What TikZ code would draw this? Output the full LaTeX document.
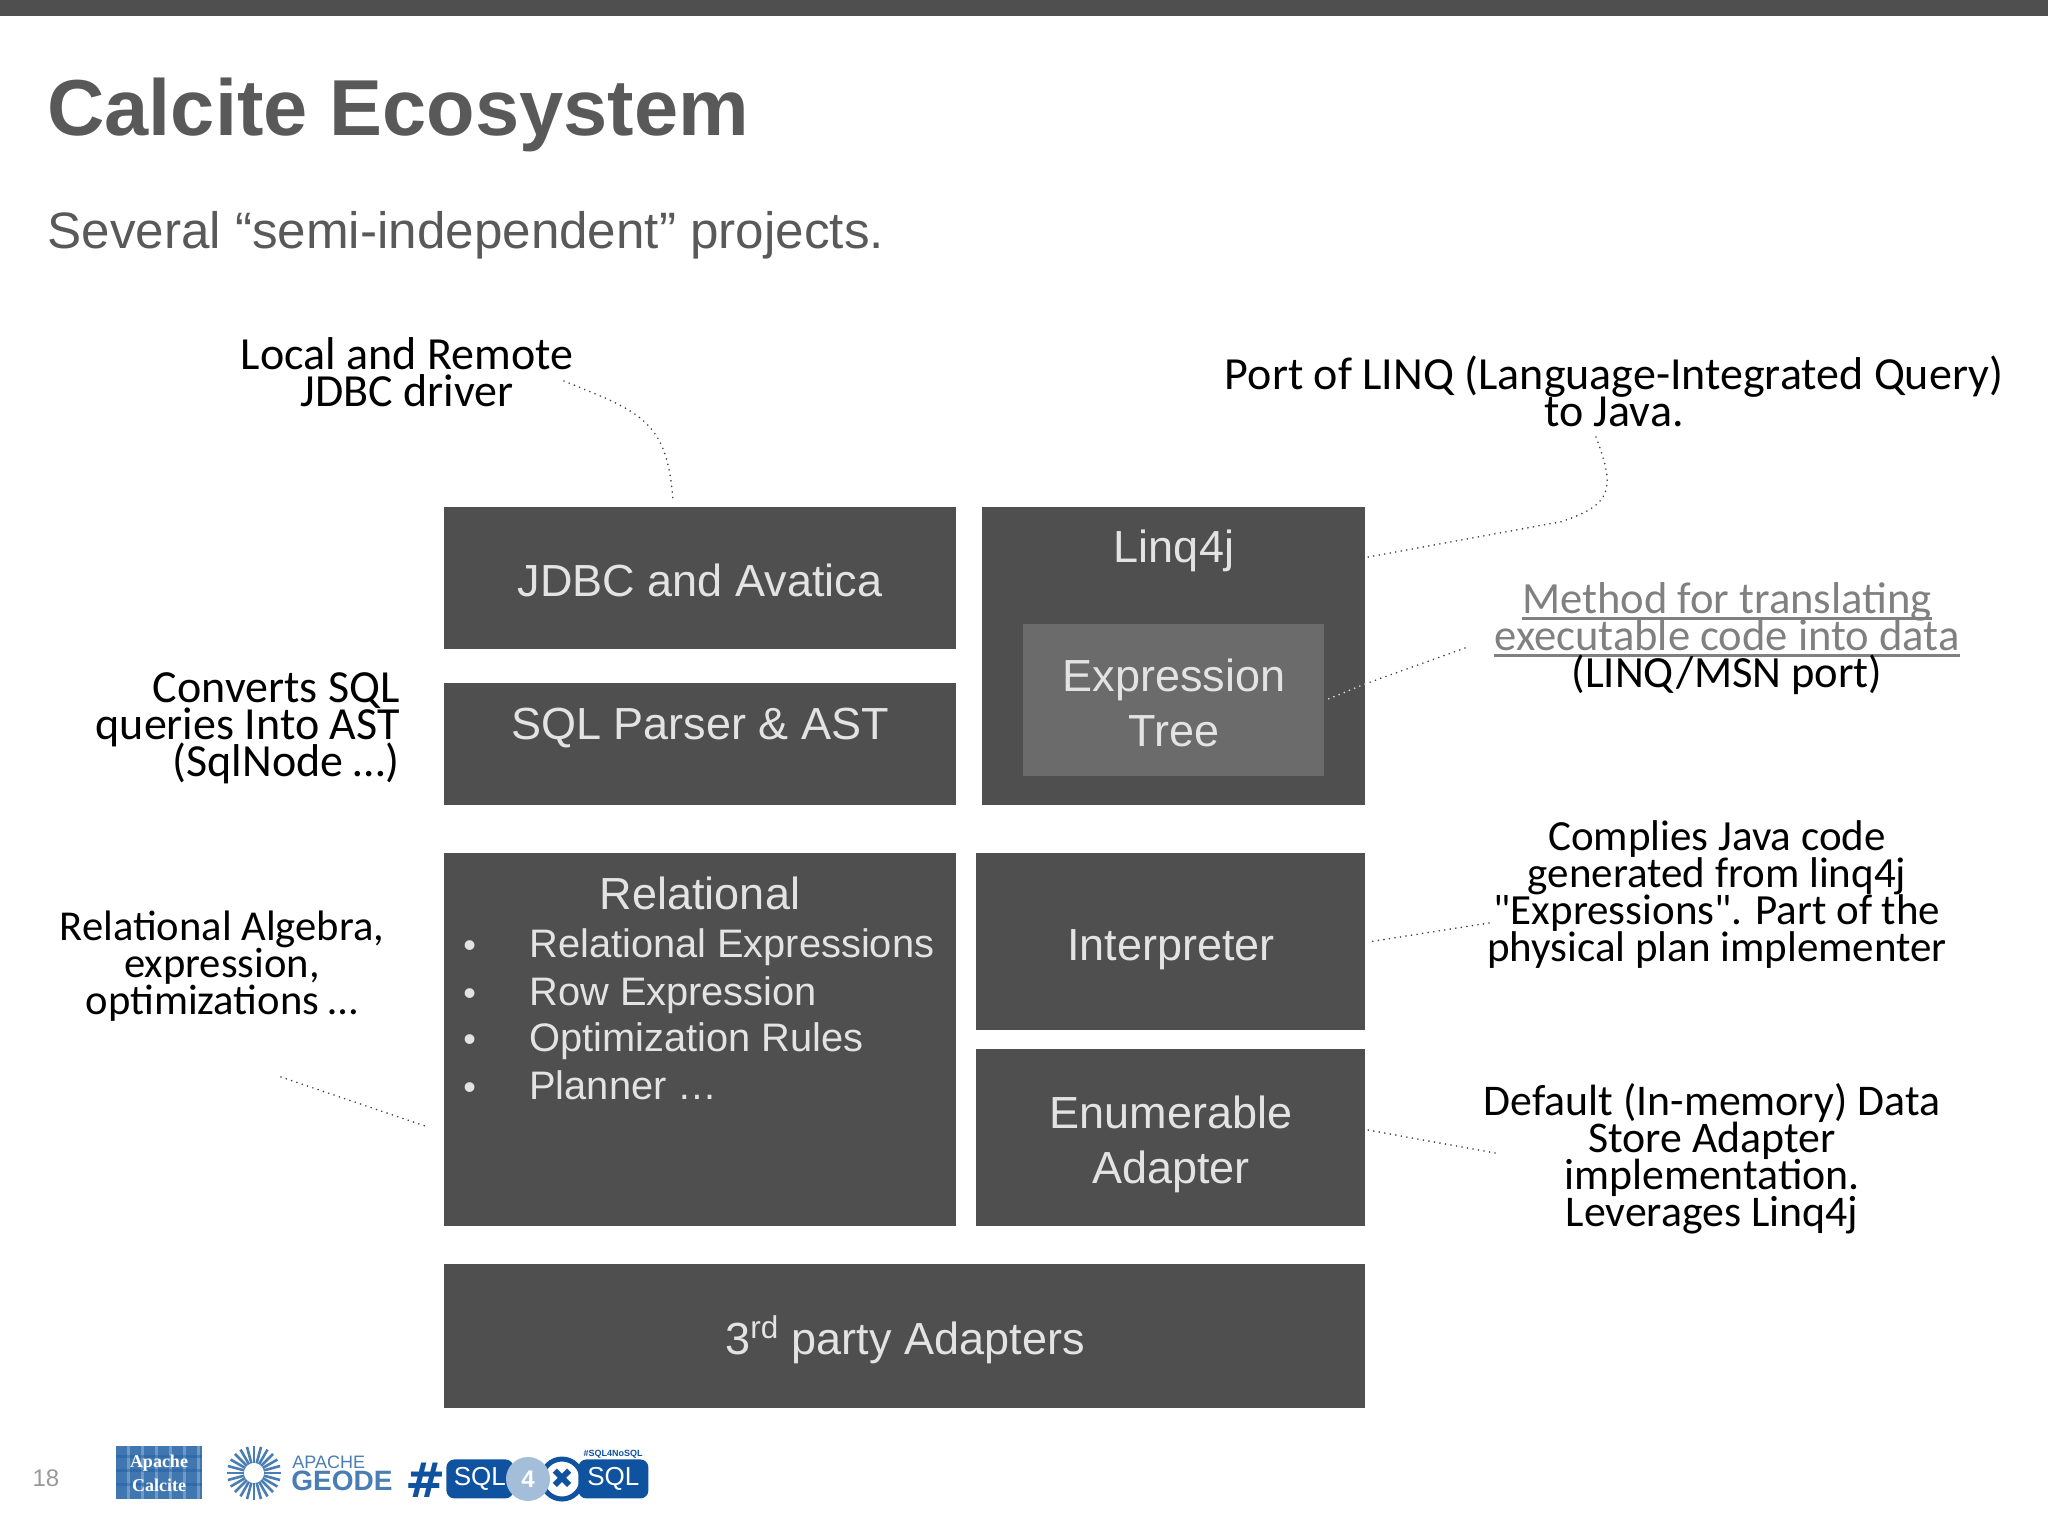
\documentclass[tikz,border=0pt]{standalone}
\usepackage{fontspec}
\setmainfont{Liberation Sans}
\newfontfamily\handfont{Carlito}
\newfontfamily\logofont{Liberation Serif}
\newfontfamily\symfont{DejaVu Sans}
\newcommand{\hwuline}[1]{\setbox0\hbox{#1}\rlap{\vrule height -1.6pt depth 3pt width \wd0}\box0}
\AtBeginDocument{\lineskiplimit=-30pt\relax\normallineskiplimit=-30pt\relax}
\definecolor{titlegray}{HTML}{595959}
\definecolor{boxgray}{HTML}{4F4F4F}
\definecolor{innergray}{HTML}{6B6B6B}
\definecolor{textgray}{HTML}{E3E3E3}
\definecolor{notegray}{HTML}{808080}
\definecolor{sqlblue}{HTML}{0F52A0}
\definecolor{geodeblue}{HTML}{4A7DB3}
\tikzset{
  blockbox/.style={fill=boxgray,anchor=north west,inner sep=0pt},
  blocktext/.style={text=textgray,inner sep=0pt,font=\fontsize{22.5}{27.5}\selectfont,align=center},
  baseline text/.style={blocktext,anchor=base},
  listtext/.style={text=textgray,inner sep=0pt,anchor=base west,font=\fontsize{19.9}{24}\selectfont},
  handnote/.style={inner sep=0pt,align=center,text=black,
    font=\handfont\fontsize{#1}{18.5}\selectfont},
  handnote/.default=22.5,
  dotline/.style={black!75,line cap=round,dash pattern=on 0pt off 2.8pt,line width=0.9pt},
  sqlbox/.style={fill=sqlblue,rounded corners=4pt,inner sep=0pt,text=white,anchor=north west,
    minimum height=19.5pt,font=\fontsize{13}{14}\selectfont},
}
\begin{document}
\begin{tikzpicture}[x=0.5pt,y=-0.5pt]
  \useasboundingbox (0,0) rectangle (2048,1536);
  \fill[boxgray] (0,0) rectangle (2048,16);
  \node[anchor=west,inner sep=0pt,text=titlegray,font=\bfseries\fontsize{39.7}{44}\selectfont]
    (title) at (47,115) {Calcite Ecosystem};
  \node[anchor=west,inner sep=0pt,text=titlegray,font=\fontsize{25.6}{30}\selectfont]
    (subtitle) at (47,235) {Several “semi-independent” projects.};
  % blocks
  \node[blockbox,minimum width=256pt,minimum height=71pt] (jdbc) at (444,507) {};
  \node[baseline text] (jdbctext) at (700,596) {JDBC and Avatica};
  \node[blockbox,minimum width=256pt,minimum height=61pt] (parser) at (444,683) {};
  \node[baseline text] (parsertext) at (700,739) {SQL Parser \& AST};
  \node[blockbox,minimum width=191.5pt,minimum height=149pt] (linq) at (982,507) {};
  \node[baseline text] (linqtext) at (1174,562) {Linq4j};
  \node[blockbox,fill=innergray,minimum width=150.5pt,minimum height=76pt] (tree) at (1023,624) {};
  \node[blocktext] (treetext) at (1174,703) {Expression\\Tree};
  \node[blockbox,minimum width=256pt,minimum height=186.5pt] (relational) at (444,853) {};
  \node[baseline text] (relationaltext) at (700,909) {Relational};
  \foreach \name/\ypos/\itemtext in {rexp/957/Relational Expressions,row/1005/Row Expression,
      rules/1051/Optimization Rules,planner/1099/Planner …} {
    \node[listtext,font=\fontsize{18}{18}\selectfont] (\name dot) at (463,\ypos) {•};
    \node[listtext] (\name) at (529,\ypos) {\itemtext};
  }
  \node[blockbox,minimum width=194.5pt,minimum height=88.5pt] (interp) at (976,853) {};
  \node[baseline text] (interptext) at (1171,960) {Interpreter};
  \node[blockbox,minimum width=194.5pt,minimum height=88.5pt] (enum) at (976,1049) {};
  \node[blocktext] (enumtext) at (1171,1144) {Enumerable\\Adapter};
  \node[blockbox,minimum width=460.5pt,minimum height=72pt] (third) at (444,1264) {};
  \node[baseline text] (thirdtext) at (905,1354) {3\textsuperscript{rd} party Adapters};
  % notes
  \node[handnote=23] (localnote) at (407,372) {Local and Remote\\JDBC driver};
  \node[handnote=23] (portnote) at (1614,391) {Port of LINQ (Language-Integrated Query)\\to Java.};
  \node[handnote=22.3] (methodnote) at (1727,639) {\color{notegray}\hwuline{Method for translating}\\
    \color{notegray}\hwuline{executable code into data}\\(LINQ/MSN port)};
  \node[handnote=23,align=right,anchor=east] (convertsnote) at (400,728)
    {Converts SQL\\queries Into AST\\(SqlNode …)};
  \node[handnote=21.3] (algebranote) at (222,966) {Relational Algebra,\\expression,\\optimizations …};
  \node[handnote=21.5] (compilesnote) at (1717,895)
    {Complies Java code\\generated from linq4j\\"Expressions". Part of the\\physical plan implementer};
  \node[handnote=21.9] (defaultnote) at (1712,1159)
    {Default (In-memory) Data\\Store Adapter\\implementation.\\Leverages Linq4j};
  % dotted links
  \coordinate (localend) at (564,381);
  \coordinate (jdbcend) at (673,502);
  \coordinate (portend) at (1596,437);
  \coordinate (linqend) at (1368,557);
  \coordinate (methodend) at (1465,648);
  \coordinate (methodmid) at (1365,684);
  \coordinate (compilesend) at (1489,923);
  \coordinate (interpend) at (1368,942);
  \coordinate (defaultend) at (1495,1153);
  \coordinate (enumend) at (1368,1130);
  \coordinate (algebraend) at (281,1077);
  \coordinate (relend) at (428,1127);
  \draw[dotline] (localend) .. controls (640,412) and (668,420) .. (jdbcend);
  \draw[dotline] (portend) .. controls (1616,490) and (1612,505) .. (1560,522) -- (linqend);
  \draw[dotline] (methodend) -- (methodmid);
  \draw[dotline,textgray] (methodmid) -- (tree.east);
  \draw[dotline] (compilesend) -- (interpend);
  \draw[dotline] (defaultend) -- (enumend);
  \draw[dotline] (algebraend) -- (relend);
  % footer
  \node[text=black!40,inner sep=0pt,font=\fontsize{12}{14}\selectfont] (pagenum) at (46,1478) {18};
  \node[fill=geodeblue!85!sqlblue,anchor=north west,inner sep=0pt,minimum width=43pt,minimum height=26.5pt] (calcite) at (116,1446) {};
  \foreach \xpos in {128,142,...,198}
    \draw[white,opacity=0.25,line width=1.5pt] (\xpos,1446) -- (\xpos,1499);
  \foreach \ypos in {1456,1470,1484}
    \draw[sqlblue,opacity=0.35,line width=1.5pt] (116,\ypos) -- (202,\ypos);
  \node[inner sep=0pt,align=center,text=white,font=\logofont\bfseries\fontsize{9}{12}\selectfont] (calcitetext) at (159,1473) {Apache\\Calcite};
  \coordinate (geodec) at (254,1473);
  \foreach \ang in {0,15,...,345}
    \draw[geodeblue,line width=1.3pt] (geodec) ++(\ang:10) -- ++(\ang:17);
  \node[anchor=west,inner sep=0pt,text=geodeblue,font=\fontsize{9}{10}\selectfont] (apache) at (292,1462) {APACHE};
  \node[anchor=west,inner sep=0pt,text=geodeblue,font=\bfseries\fontsize{14}{15}\selectfont] (geode) at (291,1481) {GEODE};
  \node[inner sep=0pt,text=sqlblue,font=\symfont\bfseries\fontsize{24}{24}\selectfont] (hash) at (426,1480) {\#};
  \node[circle,draw=sqlblue,line width=2.5pt,fill=white,minimum size=20pt,inner sep=0pt,
    text=sqlblue,font=\symfont\fontsize{14}{14}\selectfont] (cross) at (562,1479) {✖};
  \node[sqlbox,minimum width=33.5pt] (sqla) at (446,1459) {SQL};
  \node[sqlbox,minimum width=35pt] (sqlb) at (578,1459) {SQL};
  \node[circle,fill=geodeblue!50,minimum size=22pt,inner sep=0pt,text=white,
    font=\bfseries\fontsize{12}{12}\selectfont] (four) at (528,1479) {4};
  \node[inner sep=0pt,text=sqlblue,font=\bfseries\fontsize{4.5}{5}\selectfont] (hashtag) at (613,1454) {\#SQL4NoSQL};
\end{tikzpicture}
\end{document}
